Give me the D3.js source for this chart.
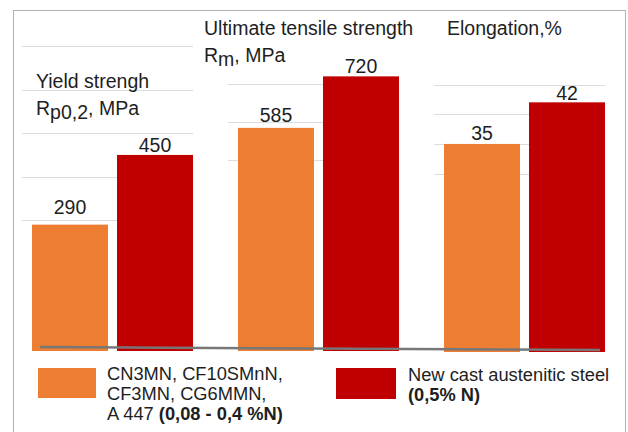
<!DOCTYPE html>
<html><head><meta charset="utf-8">
<script src="https://cdn.jsdelivr.net/npm/d3@7/dist/d3.min.js"></script>
<style>
html,body{margin:0;padding:0;background:#fff;}
text{font-family:"Liberation Sans",Arial,sans-serif;fill:#1e1e1e;}
</style></head>
<body>
<script>
// ---- data ----
const groups = ["Yield strengh", "Ultimate tensile strength", "Elongation,%"];
const seriesKeys = ["standard", "newSteel"];
const standardValues = [290, 585, 35];
const newSteelValues = [450, 720, 42];
const gridTicks = [[300, 400, 500, 600, 700], [500, 600, 700], [30, 35, 40, 45]];
const legendStandard = [["CN3MN, CF10SMnN,", ""], ["CF3MN, CG6MMN,", ""], ["A 447 ", "(0,08 - 0,4 %N)"]];
const legendNew = [["New cast austenitic steel", ""], ["", "(0,5% N)"]];

// ---- layout ----
const W = 628, H = 432;
const colors = {standard: "#ED7D31", newSteel: "#C00000"};
const yDomains = [[0, 700], [0, 700], [0, 45]];
const yRanges = [[351, 46], [351, 84], [352, 84.5]];
const labelGap = [[11, 3], [6, 3], [4, 2.5]];

const svg = d3.select("body").append("svg").attr("width", W).attr("height", H);

svg.append("rect").attr("x", 13.5).attr("y", 10.5).attr("width", 612).attr("height", 440)
  .attr("fill", "#fff").attr("stroke", "#b3b3b3").attr("stroke-width", 1);

const x0 = d3.scaleBand().domain(groups).range([32, 605]).paddingInner(0.2184);
const x1 = d3.scaleBand().domain(seriesKeys).range([0, x0.bandwidth()]).paddingInner(0.106);
const yScales = groups.map((g, i) => d3.scaleLinear().domain(yDomains[i]).range(yRanges[i]));

const data = groups.map((g, i) => ({group: g, i, values: [
  {key: "standard", v: standardValues[i]},
  {key: "newSteel", v: newSteelValues[i]}
]}));

// gridlines
const grid = svg.append("g");
data.forEach(d => {
  const y = yScales[d.i];
  grid.selectAll(null).data(gridTicks[d.i]).join("line")
    .attr("x1", x0(d.group) - 10).attr("x2", x0(d.group) + x0.bandwidth())
    .attr("y1", t => Math.round(y(t)) + 0.5).attr("y2", t => Math.round(y(t)) + 0.5)
    .attr("stroke", "#dcdcdc").attr("stroke-width", 1);
});

// bars
const gg = svg.selectAll(".grp").data(data).join("g")
  .attr("transform", d => `translate(${x0(d.group)},0)`);
gg.selectAll("rect").data(d => d.values.map(v => ({...v, i: d.i}))).join("rect")
  .attr("x", d => x1(d.key)).attr("width", x1.bandwidth())
  .attr("y", d => yScales[d.i](d.v))
  .attr("height", d => yScales[d.i](0) - yScales[d.i](d.v))
  .attr("fill", d => colors[d.key]);
gg.selectAll("text.val").data(d => d.values.map((v, j) => ({...v, i: d.i, j}))).join("text")
  .attr("class", "val")
  .attr("x", d => x1(d.key) + x1.bandwidth() / 2)
  .attr("y", d => yScales[d.i](d.v) - labelGap[d.i][d.j])
  .attr("text-anchor", "middle").attr("font-size", 19.5)
  .text(d => d.v);

// baseline axis
svg.append("line").attr("x1", 40).attr("y1", 347).attr("x2", 600).attr("y2", 350)
  .attr("stroke", "#777").attr("stroke-width", 2.5);

// titles
const FS = 19.5;
svg.append("text").attr("x", 36).attr("y", 88).attr("font-size", FS).text(groups[0]);
const t1b = svg.append("text").attr("x", 36).attr("y", 115).attr("font-size", FS);
t1b.append("tspan").text("R");
t1b.append("tspan").attr("dy", 4).text("p0,2");
t1b.append("tspan").attr("dy", -4).text(", MPa");

svg.append("text").attr("x", 204).attr("y", 35).attr("font-size", FS).text(groups[1]);
const t2b = svg.append("text").attr("x", 204).attr("y", 62).attr("font-size", FS);
t2b.append("tspan").text("R");
t2b.append("tspan").attr("dy", 3.5).text("m");
t2b.append("tspan").attr("dy", -3.5).text(", MPa");

svg.append("text").attr("x", 447).attr("y", 35).attr("font-size", FS).text(groups[2]);

// legend
svg.append("rect").attr("x", 38).attr("y", 368).attr("width", 58).attr("height", 30).attr("fill", colors.standard);
svg.append("rect").attr("x", 336).attr("y", 368).attr("width", 60).attr("height", 31).attr("fill", colors.newSteel);

function legendText(x, y0, lines) {
  lines.forEach((ln, k) => {
    const t = svg.append("text").attr("x", x).attr("y", y0 + k * 20).attr("font-size", 18.3);
    if (ln[0]) t.append("tspan").text(ln[0]);
    if (ln[1]) t.append("tspan").attr("font-weight", "bold").text(ln[1]);
  });
}
legendText(107, 380, legendStandard);
legendText(408, 381, legendNew);
</script>
</body></html>
